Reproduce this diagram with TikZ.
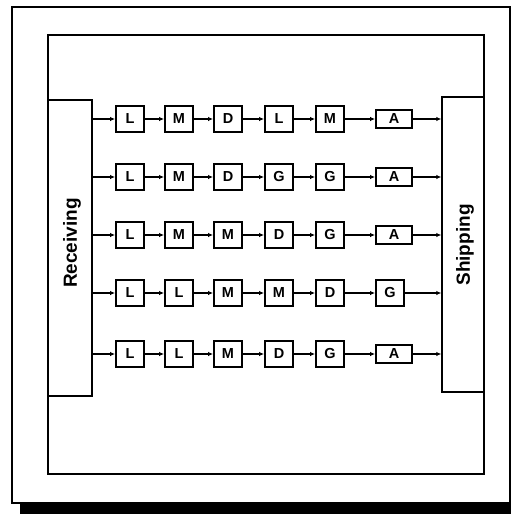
\documentclass[tikz,border=0pt]{standalone}
\usepackage{fontspec}
\setmainfont{Liberation Sans}
\usetikzlibrary{arrows.meta}
\begin{document}
\begin{tikzpicture}[x=1pt,y=-1pt,
  sbox/.style={draw,line width=1.9pt,minimum width=28pt,minimum height=26pt,inner sep=0pt,font=\fontsize{14.5}{14.5}\selectfont\bfseries},
  abox/.style={sbox,minimum width=36pt,minimum height=18pt},
  big/.style={draw,line width=1.4pt,inner sep=0pt},
  lbl/.style={rotate=90,font=\fontsize{19}{19}\selectfont\bfseries},
  arr/.style={line width=1.4pt,-{Latex[length=5pt,width=4.5pt]}}]
\useasboundingbox (0,0) rectangle (511,514);
% frames
\draw[line width=1.4pt] (12,7) rectangle (510,503);
\fill (20,504) rectangle (511,514);
\draw[line width=1.4pt] (48,35) rectangle (484,474);
% receiving / shipping
\node[big,minimum width=44pt,minimum height=296pt] (rec) at (70,248) {};
\node[lbl] (rectxt) at (72,243) {Receiving};
\node[big,minimum width=42pt,minimum height=295pt] (ship) at (463,244.5) {};
\node[lbl] (shiptxt) at (465,245) {Shipping};
% rows
\foreach \r/\y/\a/\b/\c/\d/\e/\f/\fs/\fx in {
  1/119/L/M/D/L/M/A/abox/394,
  2/177/L/M/D/G/G/A/abox/394,
  3/235/L/M/M/D/G/A/abox/394,
  4/293/L/L/M/M/D/G/sbox/390,
  5/354/L/L/M/D/G/A/abox/394}{
  \node[sbox] (b\r1) at (130,\y) {\a};
  \node[sbox] (b\r2) at (179,\y) {\b};
  \node[sbox] (b\r3) at (228,\y) {\c};
  \node[sbox] (b\r4) at (279,\y) {\d};
  \node[sbox] (b\r5) at (330,\y) {\e};
  \node[\fs] (b\r6) at (\fx,\y) {\f};
  \draw[arr] (rec.east |- b\r1.west) -- (b\r1.west);
  \draw[arr] (b\r1) -- (b\r2);
  \draw[arr] (b\r2) -- (b\r3);
  \draw[arr] (b\r3) -- (b\r4);
  \draw[arr] (b\r4) -- (b\r5);
  \draw[arr] (b\r5) -- (b\r6);
  \draw[arr] (b\r6.east) -- (ship.west |- b\r6.east);
}
\end{tikzpicture}
\end{document}
